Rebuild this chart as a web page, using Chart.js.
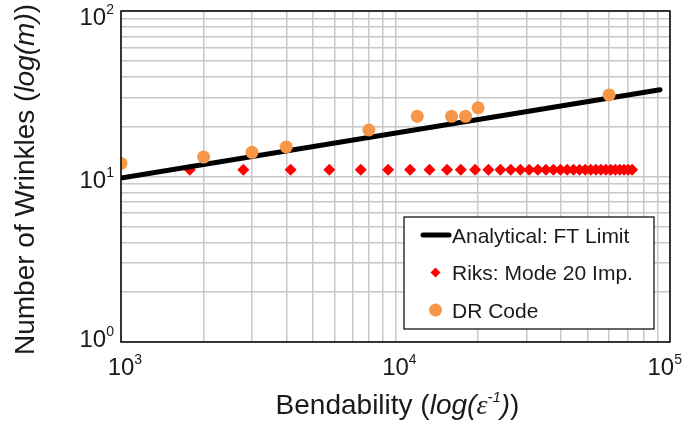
<!DOCTYPE html>
<html>
<head>
<meta charset="utf-8">
<script src="https://cdn.jsdelivr.net/npm/chart.js@4.4.1/dist/chart.umd.min.js"></script>
<style>
  html, body { margin: 0; padding: 0; background: #fff; }
</style>
</head>
<body>
<canvas id="chart" width="684" height="429"></canvas>
<script>
// --- data ---
const analyticalX = [1000, 92000];
const analyticalY = [9.8, 33.4];

const riksX = [1780, 2790, 4150, 5740, 7470, 9400, 11300, 13300, 15400, 17300,
  19500, 21800, 24100, 26300, 28500, 30700, 33000, 35300, 37600, 39900,
  42200, 44500, 46800, 49100, 51400, 53700, 56000, 58400, 60800, 63200,
  65600, 68000, 70400, 72800];
const riksY = riksX.map(() => 11);

const drX = [1000, 2000, 3000, 4000, 8000, 12000, 16000, 18000, 20000, 60000];
const drY = [12.0, 13.1, 14.0, 15.1, 19.1, 23.1, 23.1, 23.1, 26.0, 31.1];

// axis decades (labels drawn as 10^n)
const xDecades = [3, 4, 5];
const yDecades = [0, 1, 2];
const seriesLabels = ['Analytical: FT Limit', 'Riks: Mode 20 Imp.', 'DR Code'];

const FONT = '"Liberation Sans", Arial, sans-serif';
const TEXT = '#1a1a1a';
const ORANGE = '#F79646';

const pts = (xs, ys) => xs.map((x, i) => ({ x: x, y: ys[i] }));

// grid lines at 1..9 x 10^n
const logTicks = (decades) => {
  const out = [];
  for (let d = decades[0]; d < decades[decades.length - 1]; d++) {
    for (let s = 1; s < 10; s++) out.push(s * Math.pow(10, d));
  }
  out.push(Math.pow(10, decades[decades.length - 1]));
  return out;
};

const fontStr = (r) => `${r.italic ? 'italic ' : ''}${r.size}px ${r.family || FONT}`;

// measure a list of text runs
const runsWidth = (ctx, runs) => {
  let total = 0;
  runs.forEach((r) => {
    ctx.font = fontStr(r);
    r.w = ctx.measureText(r.text).width;
    total += r.w;
  });
  return total;
};

// draw a list of text runs, x is the start (left), centre or end (right)
const drawRuns = (ctx, runs, x, y, align) => {
  const total = runsWidth(ctx, runs);
  let cx = align === 'center' ? x - total / 2 : align === 'right' ? x - total : x;
  ctx.textAlign = 'left';
  ctx.textBaseline = 'alphabetic';
  runs.forEach((r) => {
    ctx.font = fontStr(r);
    ctx.fillText(r.text, cx, y - (r.rise || 0));
    cx += r.w;
  });
};

const decadeRuns = (n) => [
  { text: '10', size: 24 },
  { text: String(n), size: 14, rise: 11 },
];

const overlay = {
  id: 'overlay',
  afterDraw(chart) {
    const { ctx, chartArea: a, scales } = chart;
    ctx.save();
    ctx.fillStyle = TEXT;

    // frame
    ctx.strokeStyle = '#000';
    ctx.lineWidth = 1.5;
    ctx.strokeRect(a.left, a.top, a.right - a.left, a.bottom - a.top);

    // x tick labels (kept inside the canvas like the original)
    xDecades.forEach((d) => {
      const px = scales.x.getPixelForValue(Math.pow(10, d));
      ctx.font = fontStr({ size: 24 });
      const w10 = ctx.measureText('10').width;
      const runs = decadeRuns(d);
      const total = runsWidth(ctx, runs);
      const start = Math.min(px - w10 / 2, chart.width - 2 - total);
      drawRuns(ctx, runs, start, a.bottom + 33, 'left');
    });

    // y tick labels
    yDecades.forEach((d) => {
      const py = scales.y.getPixelForValue(Math.pow(10, d));
      const base = Math.max(a.top + 14, Math.min(a.bottom + 5, py + 11));
      drawRuns(ctx, decadeRuns(d), a.left - 7, base, 'right');
    });

    // x title
    drawRuns(ctx, [
      { text: 'Bendability (', size: 28 },
      { text: 'log(', size: 28, italic: true },
      { text: 'ε', size: 28, italic: true, family: '"Liberation Serif", serif' },
      { text: '-1', size: 15, italic: true, rise: 12 },
      { text: ')', size: 28, italic: true },
      { text: ')', size: 28 },
    ], (a.left + a.right) / 2 + 2, 414, 'center');

    // y title
    ctx.save();
    ctx.translate(34, (a.top + a.bottom) / 2 + 3);
    ctx.rotate(-Math.PI / 2);
    drawRuns(ctx, [
      { text: 'Number of Wrinkles (', size: 28 },
      { text: 'log(m)', size: 28, italic: true },
      { text: ')', size: 28 },
    ], 0, 0, 'center');
    ctx.restore();

    // legend box
    const lw = 250, lh = 112;
    const lx = a.right - 16 - lw, ly = a.bottom - 13 - lh;
    ctx.fillStyle = '#fff';
    ctx.fillRect(lx, ly, lw, lh);
    ctx.strokeStyle = '#000';
    ctx.lineWidth = 1.2;
    ctx.strokeRect(lx, ly, lw, lh);

    const rowY = [ly + 18, ly + 55.5, ly + 93];
    const symX = lx + 31.5;
    // line sample
    ctx.strokeStyle = '#000';
    ctx.lineWidth = 5;
    ctx.lineCap = 'round';
    ctx.beginPath();
    ctx.moveTo(lx + 19, rowY[0]);
    ctx.lineTo(lx + 45, rowY[0]);
    ctx.stroke();
    // diamond sample
    ctx.fillStyle = '#ff0000';
    const r = 5;
    ctx.beginPath();
    ctx.moveTo(symX, rowY[1] - r);
    ctx.lineTo(symX + r, rowY[1]);
    ctx.lineTo(symX, rowY[1] + r);
    ctx.lineTo(symX - r, rowY[1]);
    ctx.closePath();
    ctx.fill();
    // circle sample
    ctx.fillStyle = ORANGE;
    ctx.beginPath();
    ctx.arc(symX, rowY[2], 6.5, 0, Math.PI * 2);
    ctx.fill();

    ctx.fillStyle = TEXT;
    seriesLabels.forEach((t, i) => {
      drawRuns(ctx, [{ text: t, size: 21 }], lx + 48, rowY[i] + 7.5, 'left');
    });

    ctx.restore();
  },
};

const gridOpts = {
  color: '#c8c8c8',
  lineWidth: 1.5,
  drawTicks: false,
};

new Chart(document.getElementById('chart'), {
  type: 'scatter',
  data: {
    datasets: [
      {
        label: seriesLabels[2],
        data: pts(drX, drY),
        backgroundColor: ORANGE,
        borderWidth: 0,
        pointRadius: 6.5,
        pointStyle: 'circle',
        order: 0,
        clip: 0,
      },
      {
        label: seriesLabels[0],
        type: 'line',
        data: pts(analyticalX, analyticalY),
        borderColor: '#000',
        borderWidth: 5,
        borderCapStyle: 'round',
        pointRadius: 0,
        showLine: true,
        fill: false,
        order: 1,
      },
      {
        label: seriesLabels[1],
        data: pts(riksX, riksY),
        backgroundColor: '#ff0000',
        borderWidth: 0,
        pointRadius: 6,
        pointStyle: 'rectRot',
        order: 2,
      },
    ],
  },
  options: {
    responsive: false,
    animation: false,
    devicePixelRatio: 1,
    layout: { padding: { top: 11, right: 14, left: 0, bottom: 0 } },
    plugins: {
      legend: { display: false },
      tooltip: { enabled: false },
    },
    scales: {
      x: {
        type: 'logarithmic',
        min: 1000,
        max: 100000,
        grid: gridOpts,
        border: { display: false },
        ticks: { display: false },
        afterBuildTicks: (s) => { s.ticks = logTicks(xDecades).map((v) => ({ value: v })); },
        afterFit: (s) => { s.height = 87; },
      },
      y: {
        type: 'logarithmic',
        min: 1,
        max: 100,
        grid: gridOpts,
        border: { display: false },
        ticks: { display: false },
        afterBuildTicks: (s) => { s.ticks = logTicks(yDecades).map((v) => ({ value: v })); },
        afterFit: (s) => { s.width = 121; },
      },
    },
  },
  plugins: [overlay],
});
</script>
</body>
</html>
